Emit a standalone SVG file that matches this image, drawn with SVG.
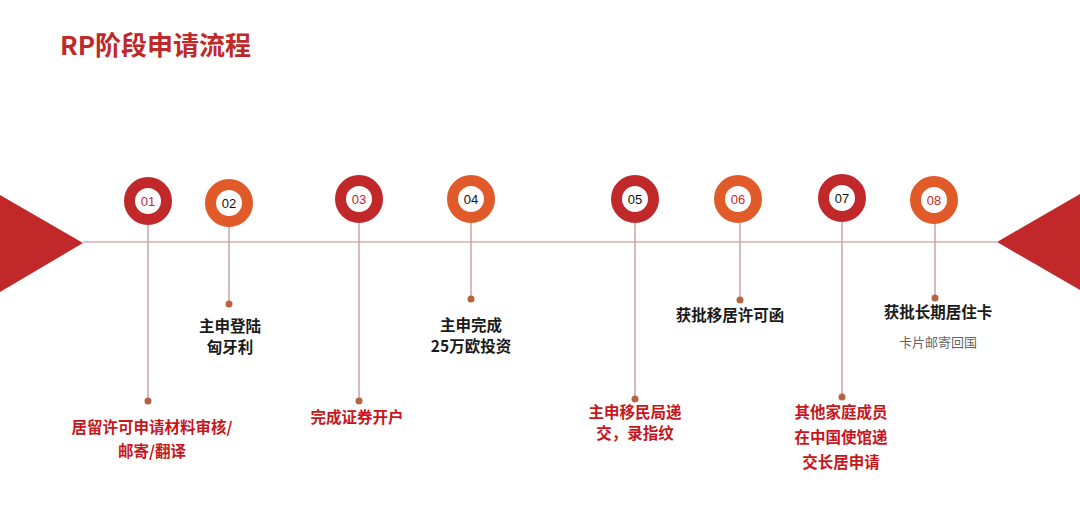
<svg xmlns="http://www.w3.org/2000/svg" width="1080" height="532" viewBox="0 0 1080 532">
<style>
.t{font-family:"Noto Sans CJK SC","Liberation Sans",sans-serif;font-weight:bold;font-size:15.5px;text-anchor:middle}
.blk{fill:#1a1a1a}
.red{fill:#C8161D}
.sub{font-family:"Noto Sans CJK SC","Liberation Sans",sans-serif;font-size:13px;fill:#666;text-anchor:middle}
.num{font-family:"Liberation Sans",Arial,sans-serif;font-size:13px;text-anchor:middle}
.ringD{fill:#fff;stroke:#C0282A;stroke-width:11}
.ringO{fill:#fff;stroke:#E05A2A;stroke-width:11}
.stem{stroke:#C9A3A7;stroke-width:1.5}
.dot{fill:#B8633F}
</style>
<rect width="1080" height="532" fill="#fff"/>
<text x="60" y="55" font-family="'Noto Sans CJK SC','Liberation Sans',sans-serif" font-weight="bold" font-size="26" fill="#C0282A">RP阶段申请流程</text>
<g id="connectors">
<line x1="83" y1="242" x2="997" y2="242" stroke="#B98A8F" stroke-width="1.2"/>
<polygon points="0,195 83,243 0,292" fill="#C0282A"/>
<polygon points="1080,194 997,242 1080,290" fill="#C0282A"/>
<line class="stem" x1="148" y1="201" x2="148" y2="401"/>
<line class="stem" x1="229" y1="203" x2="229" y2="304"/>
<line class="stem" x1="359" y1="199" x2="359" y2="401"/>
<line class="stem" x1="471" y1="199" x2="471" y2="299"/>
<line class="stem" x1="635" y1="199" x2="635" y2="399"/>
<line class="stem" x1="740" y1="199" x2="740" y2="300"/>
<line class="stem" x1="842" y1="198" x2="842" y2="397"/>
<line class="stem" x1="935" y1="200" x2="935" y2="298"/>
<circle class="dot" cx="148" cy="401" r="3.5"/>
<circle class="dot" cx="229" cy="304" r="3.5"/>
<circle class="dot" cx="359" cy="401" r="3.5"/>
<circle class="dot" cx="471" cy="299" r="3.5"/>
<circle class="dot" cx="635" cy="399" r="3.5"/>
<circle class="dot" cx="740" cy="300" r="3.5"/>
<circle class="dot" cx="842" cy="397" r="3.5"/>
<circle class="dot" cx="935" cy="298" r="3.5"/>
</g>
<g id="n01"><circle class="ringD" cx="148" cy="201" r="18.5"/><text class="num" x="148" y="206" fill="#C0282A">01</text>
<text class="t red" x="152" y="433">居留许可申请材料审核/</text><text class="t red" x="152" y="457">邮寄/翻译</text></g>
<g id="n02"><circle class="ringO" cx="229" cy="203" r="18.5"/><text class="num" x="229" y="208" fill="#111">02</text>
<text class="t blk" x="230" y="332">主申登陆</text><text class="t blk" x="230" y="353">匈牙利</text></g>
<g id="n03"><circle class="ringD" cx="359" cy="199" r="18.5"/><text class="num" x="359" y="204" fill="#C0282A">03</text>
<text class="t red" x="357" y="423">完成证券开户</text></g>
<g id="n04"><circle class="ringO" cx="471" cy="199" r="18.5"/><text class="num" x="471" y="204" fill="#111">04</text>
<text class="t blk" x="471" y="331">主申完成</text><text class="t blk" x="471" y="352">25万欧投资</text></g>
<g id="n05"><circle class="ringD" cx="635" cy="199" r="18.5"/><text class="num" x="635" y="204" fill="#111">05</text>
<text class="t red" x="635" y="418">主申移民局递</text><text class="t red" x="635" y="439">交，录指纹</text></g>
<g id="n06"><circle class="ringO" cx="738" cy="199" r="18.5"/><text class="num" x="738" y="204" fill="#C0282A">06</text>
<text class="t blk" x="730" y="321">获批移居许可函</text></g>
<g id="n07"><circle class="ringD" cx="842" cy="198" r="18.5"/><text class="num" x="842" y="203" fill="#111">07</text>
<text class="t red" x="841" y="418">其他家庭成员</text><text class="t red" x="841" y="443">在中国使馆递</text><text class="t red" x="841" y="468">交长居申请</text></g>
<g id="n08"><circle class="ringO" cx="934" cy="200" r="18.5"/><text class="num" x="934" y="205" fill="#C0282A">08</text>
<text class="t blk" x="938" y="318">获批长期居住卡</text><text class="sub" x="938" y="347">卡片邮寄回国</text></g>
</svg>
